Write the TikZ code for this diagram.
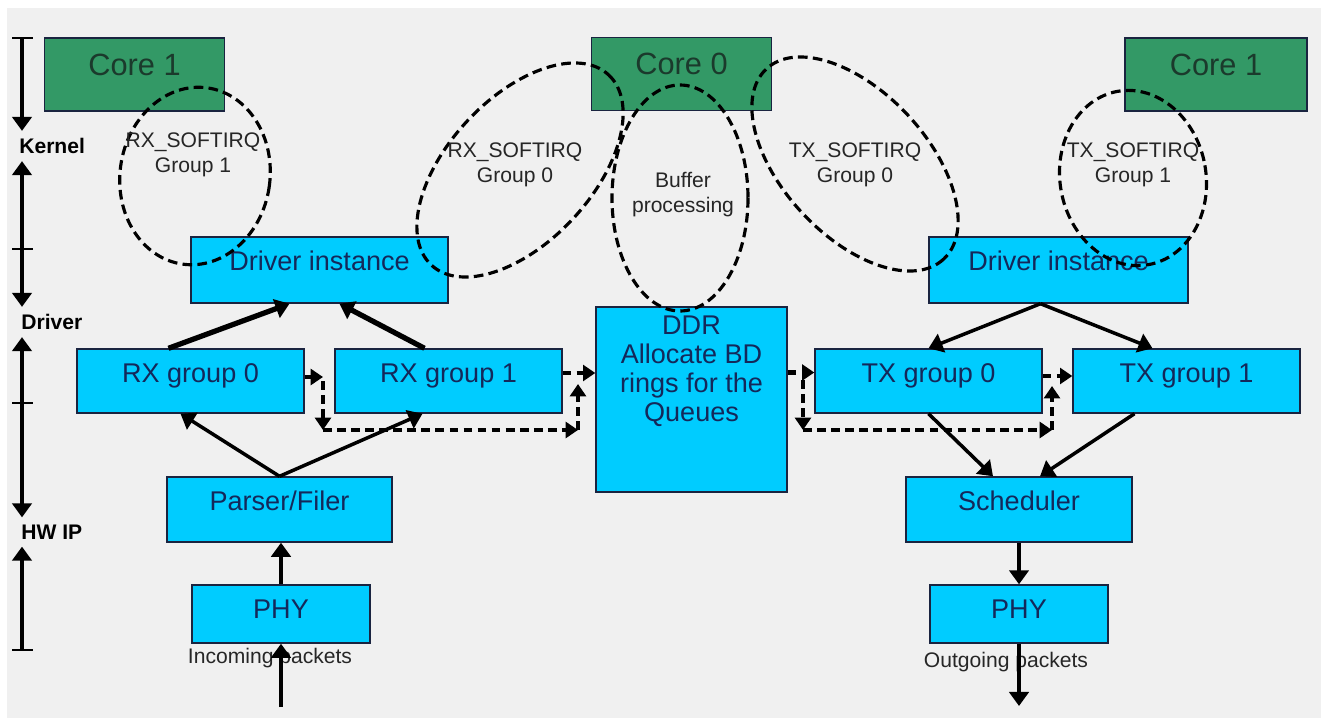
\documentclass[tikz,border=0pt]{standalone}
\usepackage{fontspec}
\setmainfont{Liberation Sans}
\usetikzlibrary{arrows.meta,calc}

\definecolor{boxcyan}{HTML}{00CCFF}
\definecolor{coregreen}{HTML}{339966}
\definecolor{boxline}{HTML}{1A2440}
\definecolor{boxtext}{HTML}{14285A}
\definecolor{coretext}{HTML}{1B3A2C}
\definecolor{paper}{HTML}{F0F0F0}

\begin{document}
\begin{tikzpicture}[x=0.02cm,y=-0.02cm,>={Triangle[length=8pt,width=11pt]},
  blk/.style={draw=boxline,line width=0.8pt,fill=boxcyan,text=boxtext,inner sep=0pt,
    font=\fontsize{15.4}{16.5}\selectfont,text height=0.72em,text depth=0.6em},
  core/.style={blk,fill=coregreen,text=coretext,minimum width=3.6cm,minimum height=1.46cm,
    font=\fontsize{17.5}{18}\selectfont,text depth=0.62em},
  grp/.style={blk,minimum width=4.54cm,minimum height=1.28cm},
  irq/.style={draw,line width=1.8pt,dash pattern=on 5.5pt off 3pt},
  irqtxt/.style={align=center,font=\fontsize{12}{14.2}\selectfont,text=black!85},
  lay/.style={anchor=west,inner xsep=0pt,inner ysep=4pt,font=\fontsize{12}{12}\selectfont\bfseries},
  flow/.style={->,line width=2pt},
  dflow/.style={-{Triangle[length=7pt,width=9pt]},line width=2.3pt,dash pattern=on 5pt off 3pt}]
\useasboundingbox (0,0) rectangle (1328,723);
\fill[white] (0,0) rectangle (1328,723);
\fill[paper] (7,8) rectangle (1321,718);

% layer scale on the left
\foreach \t/\y in {t0/38,t1/249,t2/403,t3/650}{\coordinate (\t) at (22,\y);\draw[line width=1.6pt] (12,\y)--(33,\y);}
\node[lay] (kern) at (19,146) {Kernel};
\node[lay] (drvlab) at (21,322) {Driver};
\node[lay] (hwip) at (21,532) {HW IP};
\draw[flow] (t0) -- (t0 |- kern.north);
\draw[flow] (t1) -- (t1 |- kern.south);
\draw[flow] (t1) -- (t1 |- drvlab.north);
\draw[flow] (t2) -- (t2 |- drvlab.south);
\draw[flow] (t2) -- (t2 |- hwip.north);
\draw[flow] (t3) -- (t3 |- hwip.south);

% boxes
\node[core] (coreL) at (134.5,74.5) {Core 1};
\node[core] (core0) at (681.5,74) {Core 0};
\node[core,minimum width=3.64cm] (coreR) at (1216,74.5) {Core 1};
\node[blk,minimum width=5.14cm,minimum height=1.32cm,text depth=0.7em] (drvL) at (319.5,270) {Driver instance};
\node[blk,minimum width=5.18cm,minimum height=1.32cm,text depth=0.7em] (drvR) at (1058.5,270) {Driver instance};
\foreach \n/\x/\t in {rx0/190.5/RX group 0,rx1/448.5/RX group 1,tx0/928.5/TX group 0,tx1/1186.5/TX group 1}
  \node[grp] (\n) at (\x,381) {\t};
\node[blk,minimum width=3.82cm,minimum height=3.7cm] (ddr) at (691.5,399.5) {};
\node[align=center,text=boxtext,font=\fontsize{15.4}{16.5}\selectfont] (ddrtxt) at ($(ddr.center)+(0,-28)$) {DDR\\Allocate BD\\rings for the\\Queues};
\node[blk,minimum width=4.5cm,minimum height=1.3cm] (parser) at (279.5,509.5) {Parser/Filer};
\node[blk,minimum width=4.52cm,minimum height=1.3cm] (sched) at (1019,509.5) {Scheduler};
\node[blk,minimum width=3.56cm,minimum height=1.16cm,text depth=0.2em] (phyL) at (281,614) {PHY};
\node[blk,minimum width=3.56cm,minimum height=1.16cm,text depth=0.2em] (phyR) at (1019,614) {PHY};

% softirq contexts
\draw[irq,rotate around={-8:(195,176)}] (195,176) ellipse [x radius=75,y radius=89];
\draw[irq,rotate around={47:(520,170)}] (520,170) ellipse [x radius=130,y radius=72];
\draw[irq] (680,198) ellipse [x radius=68,y radius=113];
\draw[irq,rotate around={-47:(855,164)}] (855,164) ellipse [x radius=130,y radius=72];
\draw[irq,rotate around={10:(1133,178)}] (1133,178) ellipse [x radius=73,y radius=88];
\node[irqtxt] (irqRX1) at (193,155) {RX\_SOFTIRQ\\Group 1};
\node[irqtxt] (irqRX0) at (515,165) {RX\_SOFTIRQ\\Group 0};
\node[irqtxt] (bufp) at (683,195) {Buffer\\processing};
\node[irqtxt] (irqTX0) at (855,165) {TX\_SOFTIRQ\\Group 0};
\node[irqtxt] (irqTX1) at (1133,165) {TX\_SOFTIRQ\\Group 1};
\node[irqtxt] (inlab) at (270,658) {Incoming packets};
\node[irqtxt] (outlab) at (1006,662) {Outgoing packets};

% data path
\draw[flow,line width=3pt] ($(rx0.north)+(-22,0)$) -- ($(drvL.south)+(-30,0)$);
\draw[flow,line width=3pt] ($(rx1.north)+(-24,0)$) -- ($(drvL.south)+(20,0)$);
\draw[flow] ($(drvR.south)+(-18,0)$) -- (tx0.north);
\draw[flow] ($(drvR.south)+(-18,0)$) -- ($(tx1.north)+(-34,0)$);
\draw[flow] (parser.north) -- ($(rx0.south)+(-10,0)$);
\draw[flow] (parser.north) -- ($(rx1.south)+(-26,0)$);
\draw[flow,line width=2.4pt] (phyL.north) -- (phyL.north |- parser.south);
\coordinate (inpk) at (281,707);
\draw[flow,line width=2.4pt] (inpk) -- (inpk |- phyL.south);
\draw[flow] (tx0.south) -- ($(sched.north)+(-26,0)$);
\draw[flow] ($(tx1.south)+(-52,0)$) -- ($(sched.north)+(21,0)$);
\draw[flow,line width=2.4pt] (sched.south) -- (phyR.north);
\coordinate (outpk) at (1019,706);
\draw[flow,line width=2.4pt] (phyR.south) -- (outpk);

% buffer descriptor paths
\coordinate (rxa) at (323,377); \coordinate (rxb) at (323,430);
\coordinate (rxc) at (578,430); \coordinate (rxd) at (578,384);
\coordinate (rxe) at ($(rx1.east)+(0,-8)$);
\draw[dflow] (rx0.east |- rxa) -- (rxa);
\draw[dflow] ($(rxa)+(0,4)$) -- (rxb);
\draw[dflow] (rxb) -- (rxc);
\draw[dflow] (rxc) -- (rxd);
\draw[dflow] (rxe) -- (rxe -| ddr.west);
\coordinate (txa) at (803,380); \coordinate (txb) at (803,430);
\coordinate (txc) at (1052,430); \coordinate (txd) at (1052,386);
\coordinate (txe) at ($(ddr.east)+(0,-27)$);
\coordinate (txf) at ($(tx0.east)+(0,-5)$);
\draw[dflow] (txe) -- (txe -| tx0.west);
\draw[dflow] (txa) -- (txb);
\draw[dflow] (txb) -- (txc);
\draw[dflow] (txc) -- (txd);
\draw[dflow] (txf) -- (txf -| tx1.west);
\end{tikzpicture}
\end{document}
